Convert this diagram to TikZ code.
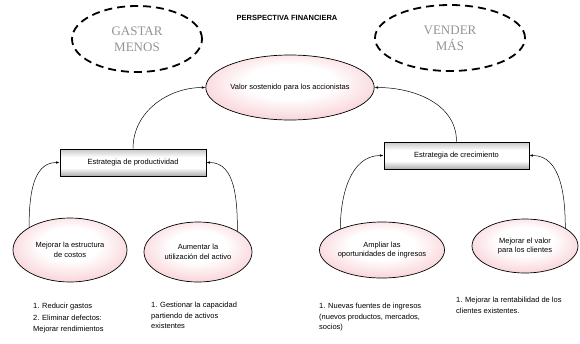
\documentclass[tikz,border=0pt]{standalone}
\usepackage{fontspec}
\setmainfont{Liberation Sans}
\newfontfamily\timesfont{Liberation Serif}
\usetikzlibrary{shapes.geometric,arrows.meta}
\definecolor{rosa}{RGB}{248,206,212}
\pgfdeclareverticalshading{caja}{100bp}{color(0bp)=(gray!65); color(25bp)=(gray!65);
  color(40bp)=(white); color(60bp)=(white); color(75bp)=(gray!45); color(100bp)=(gray!45)}
\pgfdeclareradialshading{burbuja}{\pgfpoint{0bp}{6bp}}{color(0bp)=(white); color(13bp)=(white);
  color(30bp)=(rosa); color(50bp)=(rosa)}
\begin{document}
\begin{tikzpicture}[x=1pt,y=-1pt,
  font=\fontsize{7.5}{9.5}\selectfont,
  meta/.style={ellipse,draw,line width=1.8pt,dash pattern=on 8pt off 5pt,
    inner sep=0pt,align=center,text=gray!85,
    font=\timesfont\fontsize{13}{16}\selectfont},
  objetivo/.style={ellipse,draw,line width=0.7pt,inner sep=0pt,align=center,
    shading=burbuja},
  estrategia/.style={draw,line width=0.9pt,minimum width=146pt,minimum height=27pt,
    shading=caja},
  nota/.style={anchor=north west,inner sep=0pt,align=left,
    font=\fontsize{7.5}{10.5}\selectfont},
  flecha/.style={line width=0.5pt,-{Latex[length=3.5pt,width=2.5pt]}}]
\useasboundingbox (0,0) rectangle (580,343);

% metas de la perspectiva financiera
\node[meta,minimum width=130pt,minimum height=66pt] (gastar) at (137,39) {GASTAR\\MENOS};
\node[meta,minimum width=150pt,minimum height=66pt] (vender) at (450,38) {VENDER\\MÁS};
\node[font=\bfseries\fontsize{7.5}{9}\selectfont] (titulo) at (287,18) {PERSPECTIVA FINANCIERA};

% objetivo principal
\node[objetivo,minimum width=146pt,minimum height=65pt] (valor) at (290,87.5)
  {Valor sostenido para los accionistas};

% estrategias
\node[estrategia] (productividad) at (133,162.5) {Estrategia de productividad};
\node[estrategia,minimum width=145pt] (crecimiento) at (456.5,155.5) {Estrategia de crecimiento};

% objetivos de cada estrategia
\node[objetivo,minimum width=114pt,minimum height=64pt] (costos) at (70,250)
  {Mejorar la estructura\\de costos};
\node[objetivo,minimum width=108pt,minimum height=60pt] (activo) at (198,252)
  {Aumentar la\\utilización del activo};
\node[objetivo,minimum width=110pt,minimum height=56pt] (ingresos) at (382,250)
  {Ampliar las\\oportunidades de ingresos};
\node[objetivo,minimum width=106pt,minimum height=54pt] (clientes) at (525,246)
  {Mejorar el valor\\para los clientes};

% conectores
\draw[flecha] (productividad.north) to[out=90,in=180] (valor.west);
\draw[flecha] (crecimiento.north) to[out=90,in=0] (valor.east);
\draw[flecha] (costos.151) to[out=90,in=180] (productividad.west);
\draw[flecha] (activo.28) to[out=90,in=0] (productividad.east);
\draw[flecha] (ingresos.153) to[out=90,in=180] (crecimiento.west);
\draw[flecha] (clientes.24) to[out=90,in=0] (crecimiento.east);

% notas
\node[nota] (nota1) at (33,303) {1. Reducir gastos\\[1pt]2. Eliminar defectos:\\[1pt]Mejorar rendimientos};
\node[nota] (nota2) at (151,302) {1. Gestionar la capacidad\\partiendo de activos\\existentes};
\node[nota] (nota3) at (319,303) {1. Nuevas fuentes de ingresos\\(nuevos productos, mercados,\\socios)};
\node[nota] (nota4) at (456,297) {1. Mejorar la rentabilidad de los\\clientes existentes.};
\end{tikzpicture}
\end{document}
